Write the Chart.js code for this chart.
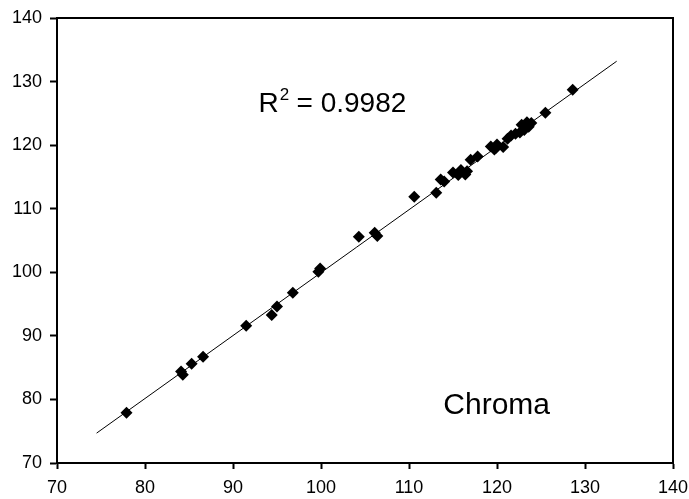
<!DOCTYPE html>
<html>
<head>
<meta charset="utf-8">
<script src="https://cdn.jsdelivr.net/npm/chart.js@4"></script>
<style>
  html, body { margin: 0; padding: 0; background: #fff; }
  #wrap { width: 689px; height: 499px; }
</style>
</head>
<body>
<div id="wrap"><canvas id="chroma"></canvas></div>
<script>
// measured vs predicted chroma
var chromaX = [77.9, 84.1, 84.3, 85.3, 86.6, 91.5, 94.4, 95.0, 96.8, 99.7, 99.9,
	104.3, 106.1, 106.4, 110.6, 113.1, 113.6, 114.0, 115.0, 115.6, 115.9, 116.4, 116.6,
	117.0, 117.8, 119.3, 119.7, 119.9, 120.0, 120.7, 121.2, 121.6, 122.1, 122.6, 122.8,
	123.1, 123.4, 123.6, 123.9, 125.5, 128.6];
var chromaY = [77.9, 84.4, 83.9, 85.6, 86.7, 91.6, 93.3, 94.6, 96.8, 100.1, 100.6,
	105.6, 106.2, 105.7, 111.9, 112.5, 114.6, 114.3, 115.7, 115.3, 116.1, 115.4, 115.9,
	117.7, 118.2, 119.8, 119.3, 119.6, 120.1, 119.7, 121.0, 121.5, 121.8, 122.0, 123.2,
	122.4, 123.6, 122.9, 123.5, 125.1, 128.7];

// fitted line end points
var trendX = [74.5, 133.6];
var trendY = [74.7, 133.2];

var axisTicks = [70, 80, 90, 100, 110, 120, 130, 140];
var r2Label = '0.9982';
var seriesName = 'Chroma';

var points = chromaX.map(function(x, i){ return {x: x, y: chromaY[i]}; });
var trend = trendX.map(function(x, i){ return {x: x, y: trendY[i]}; });

var FONT = '"Liberation Sans", Arial, sans-serif';

// frame round the plot plus the two text labels
var extras = {
	id: 'extras',
	afterDraw: function(chart){
		var c = chart.ctx, a = chart.chartArea;
		var sx = chart.scales.x, sy = chart.scales.y;
		c.save();
		c.strokeStyle = '#000';
		c.lineWidth = 2;
		c.strokeRect(a.left, a.top, a.right - a.left, a.bottom - a.top);

		c.fillStyle = '#000';
		c.textBaseline = 'alphabetic';
		c.textAlign = 'left';
		c.font = '28px ' + FONT;
		var tx = sx.getPixelForValue(92.9), ty = sy.getPixelForValue(125.2);
		c.fillText('R', tx, ty);
		var w = c.measureText('R').width;
		c.font = '17px ' + FONT;
		c.fillText('2', tx + w + 1, ty - 12);
		c.font = '28px ' + FONT;
		c.fillText(' = ' + r2Label, tx + w + 10, ty);

		c.font = '30px ' + FONT;
		c.fillText(seriesName, sx.getPixelForValue(113.9), sy.getPixelForValue(77.7));
		c.restore();
	}
};

var ctx = document.getElementById('chroma').getContext('2d');
var chart = new Chart(ctx, {
	type: 'scatter',
	data: {
		datasets: [{
			label: seriesName,
			data: points,
			pointStyle: 'rectRot',
			pointRadius: 6,
			backgroundColor: '#000',
			borderColor: '#000',
			borderWidth: 0
		}, {
			label: 'fit',
			type: 'line',
			data: trend,
			borderColor: '#000',
			borderWidth: 1,
			pointRadius: 0,
			fill: false
		}]
	},
	options: {
		responsive: true,
		maintainAspectRatio: false,
		animation: false,
		layout: { padding: { top: 18, right: 16, left: 0, bottom: 0 } },
		plugins: { legend: { display: false }, tooltip: { enabled: false } },
		scales: {
			x: {
				type: 'linear',
				min: 70, max: 140,
				afterBuildTicks: function(s){ s.ticks = axisTicks.map(function(v){ return {value: v}; }); },
				afterFit: function(s){ s.height = 36; s.paddingLeft = 0; s.paddingRight = 0; },
				grid: { drawOnChartArea: false, drawTicks: true, tickLength: 6, color: '#000', tickWidth: 2 },
				border: { color: '#000', width: 2 },
				ticks: { color: '#000', font: { family: FONT, size: 18 }, padding: 8, maxRotation: 0 }
			},
			y: {
				type: 'linear',
				min: 70, max: 140,
				afterBuildTicks: function(s){ s.ticks = axisTicks.map(function(v){ return {value: v}; }); },
				afterFit: function(s){ s.width = 57; s.paddingTop = 0; s.paddingBottom = 0; },
				grid: { drawOnChartArea: false, drawTicks: true, tickLength: 7, color: '#000', tickWidth: 2 },
				border: { color: '#000', width: 2 },
				ticks: { color: '#000', font: { family: FONT, size: 18 }, padding: 8 }
			}
		}
	},
	plugins: [extras]
});
</script>
</body>
</html>
